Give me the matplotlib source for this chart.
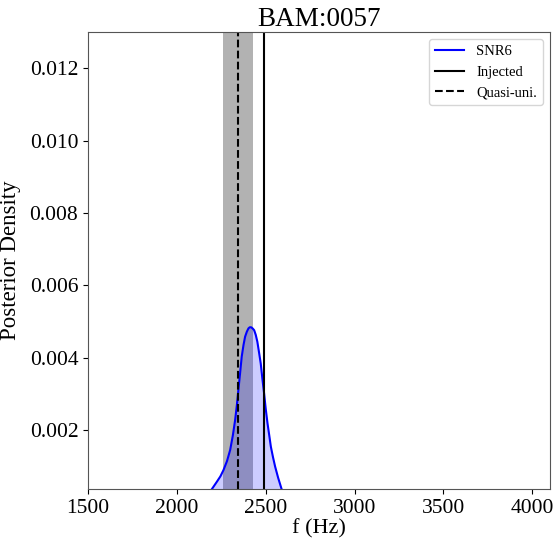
import numpy as np
import matplotlib
matplotlib.use('Agg')
import matplotlib.pyplot as plt

plt.rcParams['font.family'] = ['Liberation Serif', 'DejaVu Serif']

# posterior curve
freq = [2150, 2196, 2225, 2245, 2262, 2282, 2300, 2315, 2328, 2338, 2346,
        2356, 2365, 2375, 2384, 2394, 2403, 2410, 2418, 2426, 2435, 2444,
        2453, 2462, 2472, 2481, 2491, 2500, 2510, 2520, 2529, 2541, 2553,
        2570, 2590, 2640]
density = [0.00010, 0.00036, 0.00057, 0.00072, 0.00089, 0.00114, 0.00145,
           0.00185, 0.00228, 0.00270, 0.00310, 0.00358, 0.00403, 0.00435,
           0.00458, 0.00472, 0.00481, 0.00484, 0.00484, 0.00481, 0.00476,
           0.00463, 0.00444, 0.00416, 0.00384, 0.00343, 0.00301, 0.00259,
           0.00219, 0.00185, 0.00154, 0.00125, 0.00099, 0.00068, 0.00036,
           0.00005]

f_injected = 2491
f_quasi = 2346
quasi_band = (2262, 2427)

fig = plt.figure(figsize=(5.55, 5.4), dpi=100)
ax = fig.add_axes([0.1586, 0.0944, 0.8324, 0.8463])

ax.axvspan(quasi_band[0], quasi_band[1], color='gray', alpha=0.6, lw=0)
ax.plot(freq, density, color='blue', lw=1.5, label='SNR6')
ax.fill_between(freq, density, 0, color='blue', alpha=0.2, lw=0)
ax.axvline(f_injected, color='black', lw=1.5, label='Injected')
ax.axvline(f_quasi, color='black', lw=1.5, ls='--', label='Quasi-uni.')

ax.set_xlim(1500, 4100)
ax.set_ylim(0.00037, 0.013)
ax.set_xticks([1500, 2000, 2500, 3000, 3500, 4000])
ax.set_yticks([0.002, 0.004, 0.006, 0.008, 0.010, 0.012])
ax.set_yticklabels(['0.002', '0.004', '0.006', '0.008', '0.010', '0.012'])
ax.tick_params(labelsize=15.5, colors='black')
for s in ax.spines.values():
    s.set_color('#555555')

ax.set_title('BAM:0057', fontsize=19.5, pad=3)
ax.set_xlabel('f (Hz)', fontsize=16, labelpad=1)
ax.set_ylabel('Posterior Density', fontsize=16.5, labelpad=6)
ax.legend(loc='upper right', fontsize=10.5)

fig.savefig('out.png', dpi=100)
